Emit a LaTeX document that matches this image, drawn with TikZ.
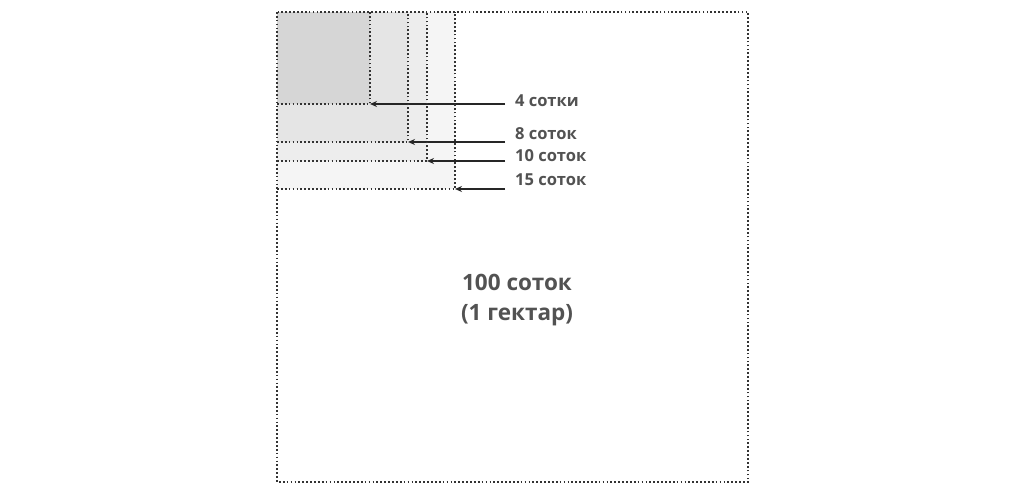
\documentclass[tikz,border=0pt]{standalone}
\usepackage{fontspec}
\setmainfont{Open Sans}
\usetikzlibrary{arrows.meta}

\begin{document}
\begin{tikzpicture}[x=1pt, y=-1pt, >={Stealth[length=7pt, width=6pt]}]
	\tikzset{
		bordo/.style={line width=1.6pt, dash pattern=on 1.7pt off 2.2pt, draw=black!80},
		freccia/.style={->, line width=1.4pt, draw=black!85},
		etichetta/.style={anchor=base west, inner sep=0pt, text=black!68, font=\bfseries\fontsize{16.5}{20}\selectfont},
		titolo/.style={align=center, inner sep=0pt, text=black!68, font=\bfseries\fontsize{22.5}{30}\selectfont}
	}
	\useasboundingbox[fill=white] (0,0) rectangle (1024,494);
	
	\coordinate (O) at (277,12);
	
	% aree piene, dalla piu grande alla piu piccola
	\fill[black!4] (O) rectangle (455,189);
	\fill[black!7] (O) rectangle (427,161);
	\fill[black!10] (O) rectangle (408,142);
	\fill[black!16] (O) rectangle (370,104);
	
	\draw[bordo] (O) rectangle (748,482);
	
	\foreach \n/\x/\y/\b/\testo in {4/370/104/107/4 сотки, 8/408/142/140/8 соток, 10/427/161/162/10 соток, 15/455/189/186/15 соток} {
		\coordinate (c\n) at (\x,\y);
		\coordinate (s\n) at (505,\y);
		\draw[bordo] (277,\y) -| (\x,12);
		\draw[freccia] (s\n) -- (c\n);
		\node[etichetta] (e\n) at (515,\b) {\testo};
	}
	
	\node[titolo] (ettaro) at (517,300) {100 соток\\(1 гектар)};
\end{tikzpicture}
\end{document}
